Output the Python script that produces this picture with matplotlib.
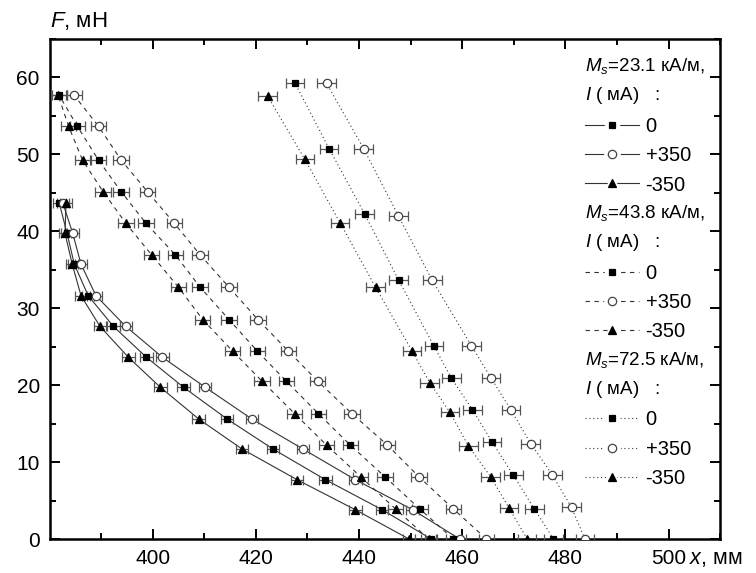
import matplotlib
matplotlib.use("Agg")
import matplotlib.pyplot as plt
from matplotlib.lines import Line2D
from matplotlib.text import Text
from matplotlib.legend_handler import HandlerBase, HandlerTuple

plt.rcParams['font.family'] = ['Liberation Sans', 'DejaVu Sans']
plt.rcParams['mathtext.fontset'] = 'custom'
plt.rcParams['mathtext.rm'] = 'Liberation Sans'
plt.rcParams['mathtext.it'] = 'Liberation Sans:italic'

# Ms = 23.1 kA/m (solid)
y_s = [0, 3.8, 7.7, 11.7, 15.6, 19.7, 23.6, 27.6, 31.6, 35.7, 39.7, 43.6]
x_s_0 = [454.0, 444.5, 433.5, 423.3, 414.4, 406.0, 398.8, 392.4, 387.5, 384.8, 383.4, 381.9]
x_s_p = [459.5, 450.4, 439.3, 429.1, 419.2, 410.2, 401.9, 394.8, 389.0, 386.1, 384.5, 382.6]
x_s_m = [449.7, 439.3, 428.0, 417.3, 408.9, 401.5, 395.3, 389.8, 386.1, 384.4, 383.0, 383.2]

# Ms = 43.8 kA/m (dashed)
y_d = [0, 3.9, 8.1, 12.2, 16.3, 20.5, 24.4, 28.5, 32.7, 36.9, 41.0, 45.1, 49.2, 53.6, 57.6]
x_d_0 = [458.3, 451.8, 445.0, 438.3, 432.1, 425.9, 420.3, 414.8, 409.2, 404.4, 398.7, 393.9, 389.5, 385.4, 381.9]
x_d_p = [464.7, 458.3, 451.6, 445.5, 438.6, 432.0, 426.3, 420.4, 414.8, 409.2, 404.2, 399.0, 393.9, 389.5, 384.8]
x_d_m = [453.5, 447.1, 440.3, 433.7, 427.5, 421.2, 415.5, 409.7, 405.0, 399.8, 394.8, 390.4, 386.4, 383.7, 381.7]

# Ms = 72.5 kA/m (dotted)
y_t_0 = [0, 3.9, 8.3, 12.6, 16.8, 20.9, 25.1, 33.6, 42.2, 50.7, 59.2]
x_t_0 = [477.7, 474.0, 469.9, 465.8, 462.0, 457.9, 454.5, 447.7, 441.1, 434.2, 427.6]
y_t_p = [0, 4.1, 8.3, 12.4, 16.7, 20.9, 25.1, 33.6, 42.0, 50.7, 59.2]
x_t_p = [483.8, 481.2, 477.5, 473.3, 469.5, 465.6, 461.8, 454.2, 447.6, 440.9, 433.7]
y_t_m = [0, 4.0, 8.1, 12.1, 16.5, 20.3, 24.4, 32.7, 41.1, 49.3, 57.5]
x_t_m = [472.6, 469.1, 465.5, 461.2, 457.6, 453.7, 450.3, 443.2, 436.3, 429.5, 422.3]

err_s = 1.2
err_d = 1.5
err_t = 1.8

currents = ['0', '+350', '-350']
ms_labels = ['23.1', '43.8', '72.5']

styles = ['-', (0, (4, 4)), (0, (1, 2.5))]
markers = {'0': ('s', 'black', 'black', 5),
           '+350': ('o', 'white', '#444444', 6),
           '-350': ('^', 'black', 'black', 6)}


class Header:
    def __init__(self, text):
        self.text = text


class HeaderHandler(HandlerBase):
    def create_artists(self, legend, orig_handle, xdescent, ydescent,
                       width, height, fontsize, trans):
        t = Text(-xdescent, (height - ydescent) / 2, orig_handle.text,
                 fontsize=fontsize * 0.93, va='center', ha='left',
                 transform=trans)
        return [t]


fig = plt.figure(figsize=(7.56, 5.73), dpi=100)
ax = fig.add_axes([0.0655, 0.0593, 0.887, 0.8735])

groups = [
    ([x_s_0, x_s_p, x_s_m], [y_s, y_s, y_s], err_s),
    ([x_d_0, x_d_p, x_d_m], [y_d, y_d, y_d], err_d),
    ([x_t_0, x_t_p, x_t_m], [y_t_0, y_t_p, y_t_m], err_t),
]

handles = []
labels = []
for gi, (xs, ys, err) in enumerate(groups):
    ls = styles[gi]
    handles.append(Header('$M_s$=%s кА/м,' % ms_labels[gi]))
    labels.append(' ')
    handles.append(Header('$I$ ( мА)   :'))
    labels.append(' ')
    for cur, xv, yv in zip(currents, xs, ys):
        mk, fc, ec, size = markers[cur]
        ax.plot(xv, yv, linestyle=ls, color='#333333', lw=0.8, zorder=2)
        ax.errorbar(xv, yv, xerr=err, fmt='none', ecolor='#555555',
                    elinewidth=0.9, capsize=3.5, capthick=0.9, zorder=3)
        ax.plot(xv, yv, linestyle='none', marker=mk, ms=size, mfc=fc,
                mec=ec, mew=0.9, zorder=4)
        line = Line2D([], [], linestyle=ls, color='#333333', lw=0.8)
        bg = Line2D([], [], linestyle='none', marker=mk, ms=size + 5,
                    mfc='white', mec='white')
        mark = Line2D([], [], linestyle='none', marker=mk, ms=size,
                      mfc=fc, mec=ec, mew=0.9)
        handles.append((line, bg, mark))
        labels.append(cur)

ax.legend(handles, labels, loc='upper left', bbox_to_anchor=(0.7987, 0.961),
          frameon=False, fontsize=14.5, borderpad=0, borderaxespad=0,
          handlelength=2.7, handletextpad=0.3, labelspacing=0.515,
          handler_map={Header: HeaderHandler(), tuple: HandlerTuple(ndivide=1)})

ax.set_xlim(380, 510)
ax.set_ylim(0, 65)
ax.set_xticks([400, 420, 440, 460, 480, 500])
ax.set_xticks([390, 410, 430, 450, 470, 490, 510], minor=True)
ax.set_yticks([0, 10, 20, 30, 40, 50, 60])
ax.set_yticks([5, 15, 25, 35, 45, 55, 65], minor=True)
ax.tick_params(which='both', direction='in', top=True, right=True,
               width=1.4, labelsize=15)
ax.tick_params(which='major', length=7, pad=7)
ax.tick_params(which='minor', length=4)
for sp in ax.spines.values():
    sp.set_linewidth(1.8)

fig.text(0.066, 1 - 21 / 573, '$F$, мН', fontsize=16, va='center', ha='left')
fig.text(689 / 756, 1 - 558.5 / 573, '$x$, мм', fontsize=15.5, va='center', ha='left')

fig.savefig('out.png', dpi=100)
